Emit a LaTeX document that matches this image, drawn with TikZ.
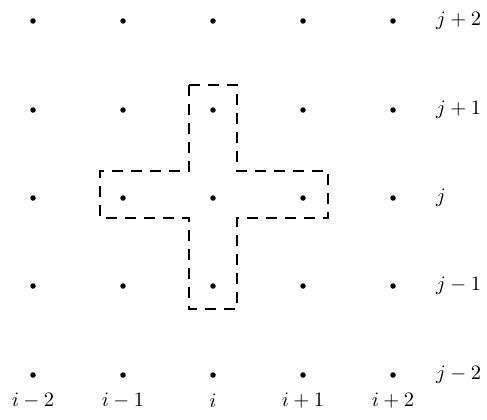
\documentclass[tikz,border=0pt]{standalone}
\usepackage{graphicx}
\newcommand{\biglab}[1]{\scalebox{2.05}{$#1$}}
\begin{document}
\begin{tikzpicture}[x=1pt,y=-1pt,
  dot/.style={circle,fill=black,inner sep=0pt,minimum size=5.5pt},
  lab/.style={inner sep=0pt},
  stencil/.style={line width=2.8pt,dash pattern=on 11pt off 8pt,line join=miter}]
\useasboundingbox (0,0) rectangle (487,420);
\foreach \x [count=\c] in {33,123,213,303,393}{
  \foreach \y [count=\r] in {21,110,198,286,375}{
    \node[dot] (d\c\r) at (\x,\y) {};
  }
}
\node[lab,anchor=west] (j2) at (436,21) {\biglab{j+2}};
\node[lab,anchor=west] (j1) at (436,110) {\biglab{j+1}};
\node[lab,anchor=west] (j0) at (436,198) {\biglab{j}};
\node[lab,anchor=west] (jm1) at (436,286) {\biglab{j-1}};
\node[lab,anchor=west] (jm2) at (436,375) {\biglab{j-2}};
\node[lab] (im2) at (33,401) {\biglab{i-2}};
\node[lab] (im1) at (123,401) {\biglab{i-1}};
\node[lab] (i0) at (213,401) {\biglab{i}};
\node[lab] (ip1) at (303,401) {\biglab{i+1}};
\node[lab] (ip2) at (393,401) {\biglab{i+2}};
\draw[stencil] (189,85) -- (237,85) -- (237,171) -- (328,171) -- (328,218)
  -- (237,218) -- (237,309) -- (189,309) -- (189,218) -- (100,218)
  -- (100,171) -- (189,171) -- cycle;
\end{tikzpicture}
\end{document}
